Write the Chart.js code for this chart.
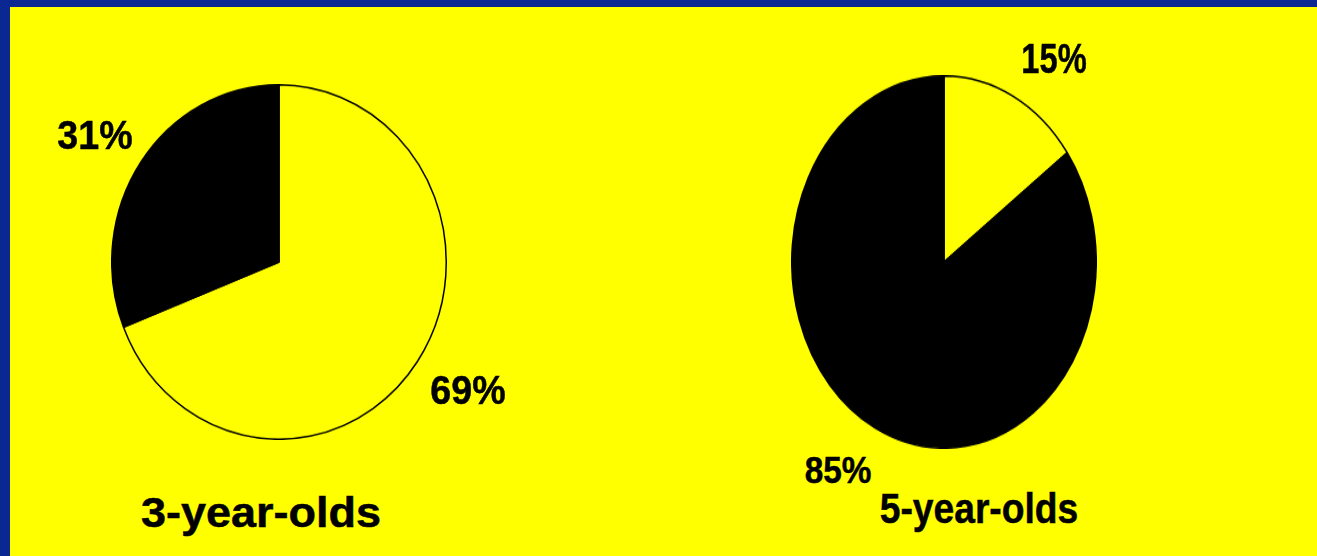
<!DOCTYPE html>
<html>
<head>
<meta charset="utf-8">
<script src="https://cdn.jsdelivr.net/npm/chart.js@4.4.1/dist/chart.umd.min.js"></script>
<style>
  html, body { margin: 0; padding: 0; }
  body {
    width: 1317px; height: 556px; overflow: hidden; position: relative;
    background: #0b2791;
    font-family: "Liberation Sans", Arial, sans-serif;
  }
  #panel {
    position: absolute; left: 10px; top: 7px; width: 1307px; height: 549px;
    background: #ffff00;
  }
  .pie { position: absolute; transform-origin: 50% 50%; }
  .lbl {
    position: absolute; font-weight: bold; color: #000; line-height: 1;
    white-space: nowrap;
    -webkit-text-stroke: 0.5px #000;
  }
</style>
</head>
<body>
<div id="panel"></div>
<canvas id="pieA" class="pie"></canvas>
<canvas id="pieB" class="pie"></canvas>

<script>
// Age groups and their two-part shares (percent): light slice first, dark slice second.
const groups = ['3-year-olds', '5-year-olds'];
const sliceNames = ['light', 'dark'];
const share3 = [69, 31];
const share5 = [15, 85];
const sliceColors = ['#ffff00', '#000000'];

// Layout of each pie: centre, horizontal and vertical radius (pies are drawn as ellipses).
const pieLayout = [
  { id: 'pieA', cx: 279, cy: 262, rx: 168, ry: 178, data: share3 },
  { id: 'pieB', cx: 944, cy: 262, rx: 153, ry: 187, data: share5 }
];

// Text placement: centre point, font size, horizontal squeeze.
const valueLabelPos = [
  [ { x: 468, y: 390, size: 40, sx: 0.94 },   // 69%
    { x: 95,  y: 135, size: 40, sx: 0.94 } ], // 31%
  [ { x: 1054, y: 58, size: 43, sx: 0.76 },   // 15%
    { x: 838, y: 470, size: 37, sx: 0.90 } ]  // 85%
];
const titlePos = [
  { x: 261, y: 513, size: 42, sx: 1.07 },
  { x: 979, y: 508, size: 43, sx: 0.865 }
];

pieLayout.forEach(p => {
  const c = document.getElementById(p.id);
  c.width = 2 * p.rx;
  c.height = 2 * p.rx;
  c.style.left = (p.cx - p.rx) + 'px';
  c.style.top = (p.cy - p.rx) + 'px';
  c.style.transform = 'scaleY(' + (p.ry / p.rx) + ')';
  new Chart(c, {
    type: 'pie',
    data: {
      labels: sliceNames,
      datasets: [{
        data: p.data,
        backgroundColor: sliceColors,
        borderColor: '#000000',
        borderWidth: 1.5
      }]
    },
    options: {
      responsive: false,
      animation: false,
      layout: { padding: 0 },
      plugins: { legend: { display: false }, tooltip: { enabled: false } }
    }
  });
});

function addText(text, pos) {
  const d = document.createElement('div');
  d.className = 'lbl';
  d.textContent = text;
  d.style.fontSize = pos.size + 'px';
  d.style.left = pos.x + 'px';
  d.style.top = pos.y + 'px';
  d.style.transform = 'translate(-50%, -50%) scaleX(' + pos.sx + ')';
  document.body.appendChild(d);
}

const allShares = [share3, share5];
allShares.forEach((vals, g) => {
  vals.forEach((v, i) => addText(v + '%', valueLabelPos[g][i]));
  addText(groups[g], titlePos[g]);
});
</script>
</body>
</html>
